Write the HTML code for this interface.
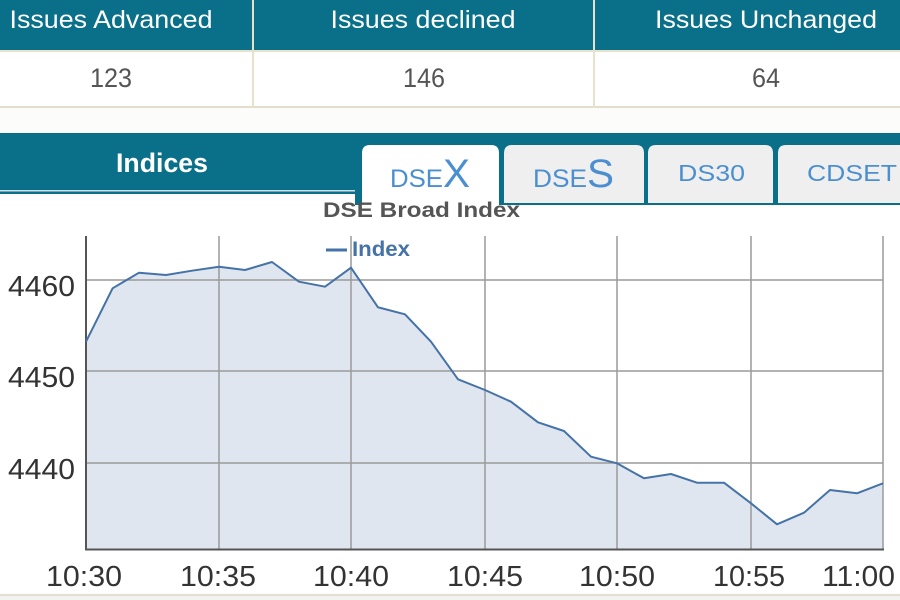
<!DOCTYPE html>
<html>
<head>
<meta charset="utf-8">
<style>
  html,body{margin:0;padding:0;background:#fff;}
  svg{display:block;}
  text{font-family:"Liberation Sans", Arial, sans-serif;}
</style>
</head>
<body>
<svg width="900" height="600" viewBox="0 0 900 600" xmlns="http://www.w3.org/2000/svg">
  <!-- page background -->
  <rect x="0" y="0" width="900" height="600" fill="#ffffff"/>
  <rect x="0" y="108" width="900" height="25" fill="#fcfcfa"/>

  <!-- top table header -->
  <rect x="0" y="0" width="900" height="50" fill="#0a6f88"/>
  <rect x="0" y="50" width="900" height="2" fill="#e6e2cc"/>
  <rect x="0" y="52" width="900" height="55" fill="#ffffff"/>
  <rect x="0" y="106" width="900" height="2" fill="#e2decb"/>
  <rect x="252" y="0" width="2" height="108" fill="#e6e2cc"/>
  <rect x="593" y="0" width="2" height="108" fill="#e6e2cc"/>

  <text x="111" y="28" fill="#ffffff" font-size="25" text-anchor="middle" textLength="203" lengthAdjust="spacingAndGlyphs">Issues Advanced</text>
  <text x="423" y="28" fill="#ffffff" font-size="25" text-anchor="middle" textLength="185" lengthAdjust="spacingAndGlyphs">Issues declined</text>
  <text x="766" y="28" fill="#ffffff" font-size="25" text-anchor="middle" textLength="222" lengthAdjust="spacingAndGlyphs">Issues Unchanged</text>

  <text x="111" y="87" fill="#555" font-size="27" text-anchor="middle" textLength="42" lengthAdjust="spacingAndGlyphs">123</text>
  <text x="424" y="87" fill="#555" font-size="27" text-anchor="middle" textLength="42" lengthAdjust="spacingAndGlyphs">146</text>
  <text x="766" y="87" fill="#555" font-size="27" text-anchor="middle" textLength="28" lengthAdjust="spacingAndGlyphs">64</text>

  <!-- Indices band -->
  <rect x="0" y="133" width="900" height="57" fill="#0a6f88"/>
  <rect x="0" y="190" width="360" height="1.5" fill="#cfe0e4"/>
  <rect x="0" y="191.5" width="360" height="2.5" fill="#0a6f88"/>
  <rect x="355" y="133" width="545" height="72" fill="#0a6f88"/>
  <text x="162" y="172" fill="#ffffff" font-size="27" font-weight="bold" text-anchor="middle" textLength="92" lengthAdjust="spacingAndGlyphs">Indices</text>

  <!-- tabs -->
  <path d="M504 203 L504 153 Q504 145 512 145 L636 145 Q644 145 644 153 L644 203 Z" fill="#efefef"/>
  <path d="M648 203 L648 153 Q648 145 656 145 L765 145 Q773 145 773 153 L773 203 Z" fill="#efefef"/>
  <path d="M778 203 L778 153 Q778 145 786 145 L900 145 L900 203 Z" fill="#efefef"/>
  <path d="M362 212 L362 153 Q362 145 370 145 L491 145 Q499 145 499 153 L499 212 Z" fill="#ffffff"/>

  <text x="390" y="187" fill="#4b8fd0" font-size="25" textLength="53" lengthAdjust="spacingAndGlyphs">DSE</text>
  <text x="443" y="187" fill="#4b8fd0" font-size="40" textLength="27" lengthAdjust="spacingAndGlyphs">X</text>
  <text x="533" y="187" fill="#4b8fd0" font-size="25" textLength="54" lengthAdjust="spacingAndGlyphs">DSE</text>
  <text x="587" y="187" fill="#4b8fd0" font-size="40" textLength="27" lengthAdjust="spacingAndGlyphs">S</text>
  <text x="678" y="181" fill="#4b8fd0" font-size="23" textLength="67" lengthAdjust="spacingAndGlyphs">DS30</text>
  <text x="807" y="181" fill="#4b8fd0" font-size="23" textLength="90" lengthAdjust="spacingAndGlyphs">CDSET</text>

  <!-- chart title & legend -->
  <text x="323" y="217" fill="#555" font-size="21" font-weight="bold" textLength="197" lengthAdjust="spacingAndGlyphs">DSE Broad Index</text>
  <line x1="326" y1="250" x2="347" y2="250" stroke="#4572a7" stroke-width="3"/>
  <text x="352" y="256" fill="#4572a7" font-size="21" font-weight="bold" textLength="58" lengthAdjust="spacingAndGlyphs">Index</text>

  <!-- area fill -->
  <polygon fill="#dfe6ef" points="86,341.7 112.6,288.3 139,272.7 166,275 192,270.7 219,266.7 245,270 272,262 299,281.7 325,286.7 351,267.7 378,307.3 405,314.3 431,341.7 458,379.3 485,390 511,401.7 538,422.3 564,431 591,456.7 617,463.3 644,478.3 671,474 697,482.7 724,482.7 751,503.3 777,524.3 804,512.7 830,490 857,493.3 883,483.3 883,549 86,549"/>

  <!-- grid -->
  <g stroke="#9a9a9a" stroke-width="1.5" fill="none">
    <line x1="86" y1="280" x2="883" y2="280"/>
    <line x1="86" y1="371" x2="883" y2="371"/>
    <line x1="86" y1="463" x2="883" y2="463"/>
    <line x1="219" y1="236" x2="219" y2="549"/>
    <line x1="351" y1="236" x2="351" y2="549"/>
    <line x1="485" y1="236" x2="485" y2="549"/>
    <line x1="617" y1="236" x2="617" y2="549"/>
    <line x1="751" y1="236" x2="751" y2="549"/>
    <line x1="883" y1="236" x2="883" y2="549"/>
  </g>
  <!-- axes -->
  <line x1="86" y1="236" x2="86" y2="550" stroke="#555" stroke-width="2"/>
  <line x1="85" y1="549.5" x2="884" y2="549.5" stroke="#555" stroke-width="2"/>

  <!-- series line -->
  <polyline fill="none" stroke="#4572a7" stroke-width="2" stroke-linejoin="round" points="86,341.7 112.6,288.3 139,272.7 166,275 192,270.7 219,266.7 245,270 272,262 299,281.7 325,286.7 351,267.7 378,307.3 405,314.3 431,341.7 458,379.3 485,390 511,401.7 538,422.3 564,431 591,456.7 617,463.3 644,478.3 671,474 697,482.7 724,482.7 751,503.3 777,524.3 804,512.7 830,490 857,493.3 883,483.3"/>

  <!-- y labels -->
  <g fill="#333" font-size="29" text-anchor="end">
    <text x="75" y="296" textLength="67" lengthAdjust="spacingAndGlyphs">4460</text>
    <text x="75" y="387" textLength="67" lengthAdjust="spacingAndGlyphs">4450</text>
    <text x="75" y="479" textLength="67" lengthAdjust="spacingAndGlyphs">4440</text>
  </g>
  <!-- x labels -->
  <g fill="#333" font-size="29">
    <text x="46" y="586" textLength="76" lengthAdjust="spacingAndGlyphs">10:30</text>
    <text x="180" y="586" textLength="76" lengthAdjust="spacingAndGlyphs">10:35</text>
    <text x="313" y="586" textLength="76" lengthAdjust="spacingAndGlyphs">10:40</text>
    <text x="447" y="586" textLength="76" lengthAdjust="spacingAndGlyphs">10:45</text>
    <text x="579" y="586" textLength="76" lengthAdjust="spacingAndGlyphs">10:50</text>
    <text x="713" y="586" textLength="72" lengthAdjust="spacingAndGlyphs">10:55</text>
    <text x="822" y="586" textLength="73" lengthAdjust="spacingAndGlyphs">11:00</text>
  </g>

  <!-- bottom strip -->
  <rect x="0" y="594" width="900" height="2" fill="#e2dfd2"/>
  <rect x="0" y="596" width="900" height="4" fill="#f2f2f0"/>
</svg>
</body>
</html>
